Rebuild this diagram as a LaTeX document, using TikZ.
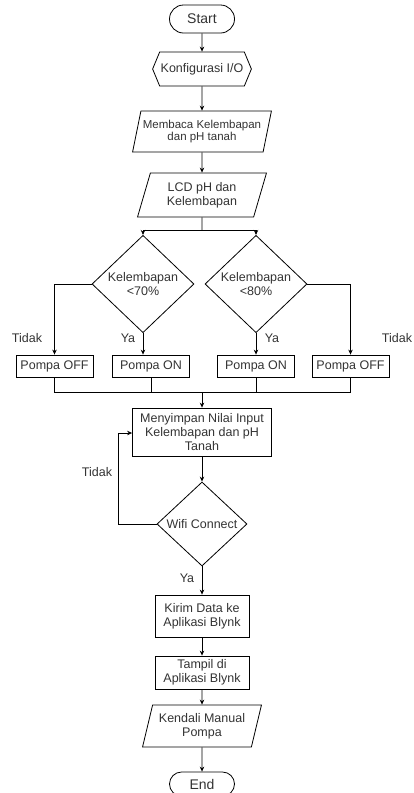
\documentclass[tikz,border=0pt]{standalone}
\usepackage{fontspec}
\setmainfont{Liberation Sans}
\usetikzlibrary{arrows.meta,positioning,shapes.geometric,shapes.misc,shapes.symbols}

\begin{document}
\begin{tikzpicture}[x=1pt,y=-1pt,font=\fontsize{12.5}{14}\selectfont,
 line width=0.8pt,>={Stealth[length=5pt,width=4.5pt]},
 base/.style={draw,text=black!80,align=center,inner sep=1pt},
 term/.style={base,rounded rectangle,minimum width=67pt,minimum height=28pt,font=\fontsize{14}{15}\selectfont},
 prep/.style={base,signal,signal to=west and east,signal pointer angle=135,minimum width=98pt,minimum height=34pt},
 io/.style={base,trapezium,trapezium left angle=72,trapezium right angle=108,trapezium stretches=true},
 proc/.style={base,rectangle},
 pump/.style={proc,minimum width=77pt,minimum height=22pt},
 dec/.style={base,diamond,minimum width=102pt,minimum height=84pt},
 lbl/.style={text=black!80}]
\useasboundingbox (0,0) rectangle (414,793);
% main column
\node[term] (start) at (202,19) {Start};
\node[prep] (conf) at (202,69) {Konfigurasi I/O};
\node[io,minimum width=139pt,minimum height=41pt,font=\fontsize{11.5}{12.5}\selectfont] (read) at (202,131.5) {Membaca Kelembapan\\dan pH tanah};
\node[io,minimum width=130pt,minimum height=44pt] (lcd) at (202,195) {LCD pH dan\\Kelembapan};
% two checks
\node[dec] (hum1) at (143,284) {Kelembapan\\<70\%};
\node[dec] (hum2) at (256,284) {Kelembapan\\<80\%};
\node[pump] (off1) at (54.5,366) {Pompa OFF};
\node[pump] (on1) at (151,366) {Pompa ON};
\node[pump] (on2) at (256,366) {Pompa ON};
\node[pump] (off2) at (350.5,366) {Pompa OFF};
% storing and sending
\node[proc,minimum width=139pt,minimum height=48pt] (save) at (202,432) {Menyimpan Nilai Input\\Kelembapan dan pH\\Tanah};
\node[dec,minimum width=90pt,minimum height=82pt] (wifi) at (202,524) {Wifi Connect};
\node[proc,minimum width=94pt,minimum height=42pt] (send) at (202,616) {Kirim Data ke\\Aplikasi Blynk};
\node[proc,minimum width=94pt,minimum height=33pt] (show) at (202,672.5) {Tampil di\\Aplikasi Blynk};
\node[io,minimum width=119pt,minimum height=42pt] (manual) at (202,726) {Kendali Manual\\Pompa};
\node[term,minimum height=24pt] (stop) at (202,784) {End};
% labels
\node[lbl] (no1) at (27,338) {Tidak};
\node[lbl] (yes1) at (128,338) {Ya};
\node[lbl] (yes2) at (272,338) {Ya};
\node[lbl] (no2) at (397,338) {Tidak};
\node[lbl] (no3) at (97,472) {Tidak};
\node[lbl] (yes3) at (187,578) {Ya};
% connectors
\coordinate (split) at (202,230);
\coordinate (merge) at (202,392);
\coordinate (loop) at (118,433);
\draw[->] (start)--(conf);\draw[->] (conf)--(read);
\draw[->] (read)--(lcd);\draw (lcd.south)--(split);
\draw[->] (split)-|(hum1.north);\draw[->] (split)-|(hum2.north);
\draw[->] (hum1.west)-|(off1.north);
\draw[->] (hum1.south)--(hum1.south |- on1.north);
\draw[->] (hum2.south)--(on2.north);
\draw[->] (hum2.east)-|(off2.north);
\draw (off1.south)|-(off2.south |- merge)--(off2.south);
\draw (on1.south)--(on1.south |- merge);\draw (on2.south)--(on2.south |- merge);
\draw[->] (merge)--(save.north);
\draw[->] (save)--(wifi);
\draw[->] (wifi.west)-|(loop)--(save.west |- loop);
\draw[->] (wifi)--(send);\draw[->] (send)--(show);
\draw[->] (show)--(manual);\draw[->] (manual)--(stop);
\end{tikzpicture}
\end{document}
